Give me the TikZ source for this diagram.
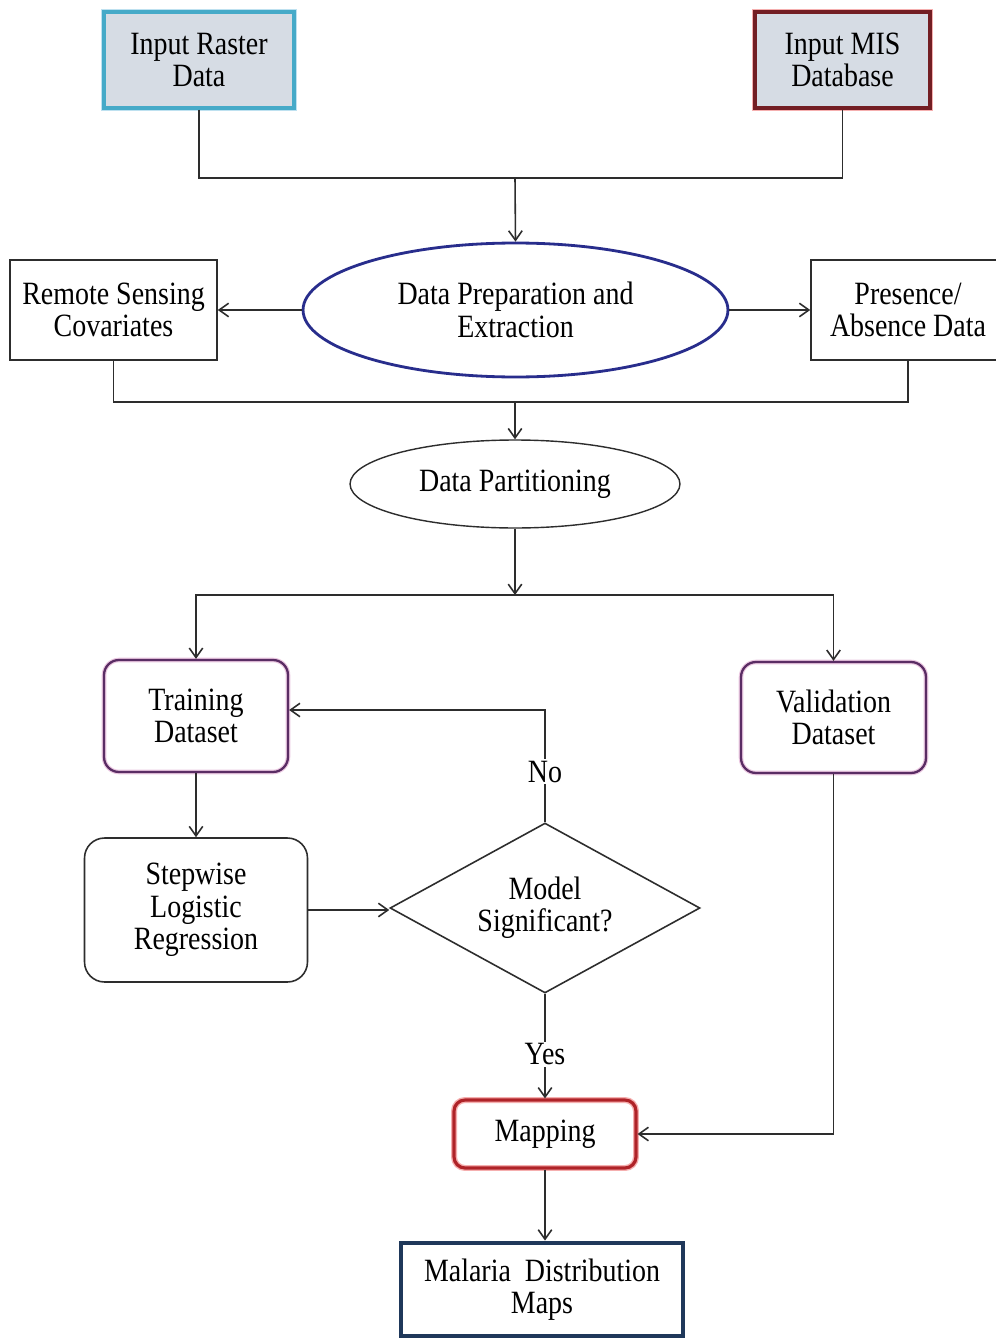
\documentclass[tikz,border=0pt]{standalone}
\usepackage{fontspec}
\setmainfont{Liberation Serif}[FakeStretch=0.86]
\usetikzlibrary{shapes.geometric,arrows.meta}
\definecolor{boxfill}{RGB}{214,220,228}
\definecolor{rastercol}{RGB}{70,170,200}
\definecolor{rasterhalo}{RGB}{190,225,240}
\definecolor{miscol}{RGB}{115,30,35}
\definecolor{mishalo}{RGB}{245,175,175}
\definecolor{ellcol}{RGB}{40,45,140}
\definecolor{purp}{RGB}{90,45,100}
\definecolor{purphalo}{RGB}{235,200,225}
\definecolor{mapcol}{RGB}{175,35,40}
\definecolor{navycol}{RGB}{31,56,90}
\definecolor{linegray}{RGB}{45,45,45}
\tikzset{
  txt/.style={font=\fontsize{18.5pt}{18.4pt}\selectfont, align=center, text=black},
  base/.style={txt, draw, inner sep=2pt},
  inbox/.style={base, fill=boxfill, line width=1.9pt},
  plainbox/.style={base, draw=linegray, line width=0.9pt},
  roundbox/.style={base, rounded corners=0.3cm},
  conn/.style={line width=0.9pt, draw=linegray},
  arr/.style={conn, -{Straight Barb[length=1.9mm,width=2.7mm]}},
  lab/.style={txt, fill=white, inner sep=1pt}
}
\begin{document}
\begin{tikzpicture}[x=0.02cm,y=-0.02cm]
\useasboundingbox (0,0) rectangle (995,1338);
\fill[white] (0,0) rectangle (995,1338);

% nodes
\node[inbox, draw=rastercol, preaction={draw=rasterhalo, line width=3.5pt},
      minimum width=3.8cm, minimum height=1.92cm] (raster) at (199,60) {Input Raster\\Data};
\node[inbox, draw=miscol, preaction={draw=mishalo, line width=3.5pt},
      minimum width=3.5cm, minimum height=1.92cm] (mis) at (842.5,60) {Input MIS\\Database};

\node[base, ellipse, draw=ellcol, line width=1.6pt, inner sep=0pt,
      minimum width=8.5cm, minimum height=2.68cm] (prep) at (515.5,310) {Data Preparation and\\Extraction};
\node[plainbox, minimum width=4.14cm, minimum height=2.0cm] (remote) at (113.5,310) {Remote Sensing\\Covariates};
\node[plainbox, minimum width=3.88cm, minimum height=2.0cm] (pres) at (908,310) {Presence/\\Absence Data};

\node[base, ellipse, draw=linegray, line width=0.8pt, inner sep=0pt,
      minimum width=6.6cm, minimum height=1.76cm] (part) at (515,484) {Data Partitioning};

\node[roundbox, draw=purp, line width=1.3pt, preaction={draw=purphalo, line width=2.6pt},
      minimum width=3.68cm, minimum height=2.24cm] (train) at (196,716) {Training\\Dataset};
\node[roundbox, draw=purp, line width=1.3pt, preaction={draw=purphalo, line width=2.6pt},
      minimum width=3.7cm, minimum height=2.22cm] (valid) at (833.5,717.5) {Validation\\Dataset};

\node[roundbox, draw=linegray, line width=0.9pt, rounded corners=0.4cm,
      minimum width=4.46cm, minimum height=2.88cm] (step) at (196,910) {Stepwise\\Logistic\\Regression};

\node[base, diamond, draw=linegray, line width=0.9pt, inner sep=0pt, aspect=1.82,
      minimum width=6.2cm, minimum height=3.4cm] (dia) at (545,908) {Model\\Significant?};

\node[roundbox, draw=mapcol, line width=1.8pt, rounded corners=0.22cm,
      preaction={draw=mishalo, line width=3.4pt},
      minimum width=3.64cm, minimum height=1.36cm] (map) at (545,1134) {Mapping};

\node[base, draw=navycol, line width=2.8pt,
      minimum width=5.64cm, minimum height=1.86cm] (mal) at (542,1289.5) {Malaria~ Distribution\\Maps};

% junctions
\coordinate (j1) at (515,178);
\coordinate (j2) at (515,402);
\coordinate (j3) at (515,595);
\coordinate (j4) at (545,710);

% connectors
\draw[conn] (raster.south) |- (j1) -| (mis.south);
\draw[arr] (j1) -- (prep.north);
\draw[arr] (prep.west) -- (remote.east);
\draw[arr] (prep.east) -- (pres.east -| pres.west);
\draw[conn] (remote.south) |- (j2) -| (pres.south);
\draw[arr] (j2) -- (part.north);
\draw[arr] (part.south) -- (j3);
\draw[arr] (j3) -| (train.north);
\draw[arr] (j3) -| (valid.north);
\draw[arr] (train.south) -- (step.north);
\draw[arr] (step.east) -- (step.east -| dia.west);
\draw[arr] (dia.north) -- node[lab, pos=0.45] {No} (j4) -- (train.east |- j4);
\draw[arr] (dia.south) -- node[lab, pos=0.58] {Yes} (map.north);
\draw[arr] (valid.south) |- (map.east);
\draw[arr] (map.south) -- (map.south |- mal.north);
\end{tikzpicture}
\end{document}
